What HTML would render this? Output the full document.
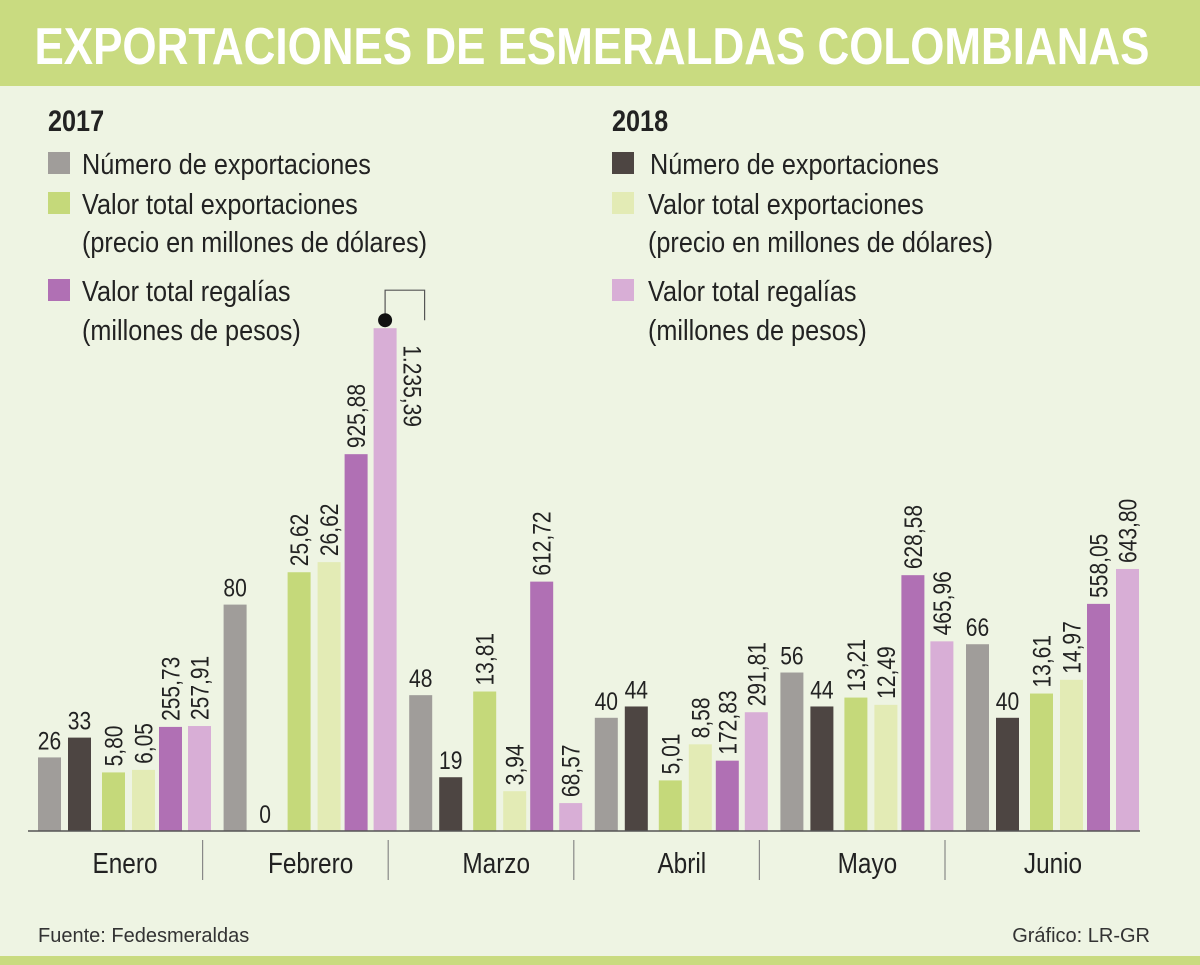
<!DOCTYPE html>
<html><head><meta charset="utf-8"><style>
body{margin:0;background:#eef4e3;}
svg{display:block;font-family:"Liberation Sans Narrow","Liberation Sans",sans-serif;}
</style></head><body>
<svg id="c" width="1200" height="965" viewBox="0 0 1200 965">
<rect x="0" y="0" width="1200" height="965" fill="#eef4e3"/>
<rect x="0" y="0" width="1200" height="86" fill="#c9db80"/>
<text x="592" y="64" text-anchor="middle" fill="#fff" font-size="52" font-weight="bold" textLength="1115" lengthAdjust="spacingAndGlyphs">EXPORTACIONES DE ESMERALDAS COLOMBIANAS</text>
<g>
<text class="n" x="48" y="131" font-size="30" font-weight="bold" fill="#222">2017</text>
<rect x="48" y="152" width="22" height="22" fill="#a09d9a"/><text class="l" x="82" y="174" font-size="29" fill="#222">Número  de exportaciones</text>
<rect x="48" y="192" width="22" height="22" fill="#c5d97a"/><text class="l" x="82" y="214" font-size="29" fill="#222">Valor total exportaciones</text>
<text class="l" x="82" y="252" font-size="29" fill="#222">(precio en millones de dólares)</text>
<rect x="48" y="279" width="22" height="22" fill="#b070b4"/><text class="l" x="82" y="301" font-size="29" fill="#222">Valor total regalías</text>
<text class="l" x="82" y="340" font-size="29" fill="#222">(millones de pesos)</text>
</g>
<g>
<text class="n" x="612" y="131" font-size="30" font-weight="bold" fill="#222">2018</text>
<rect x="612" y="152" width="22" height="22" fill="#4d4542"/><text class="l" x="650" y="174" font-size="29" fill="#222">Número  de exportaciones</text>
<rect x="612" y="192" width="22" height="22" fill="#e3ebb5"/><text class="l" x="648" y="214" font-size="29" fill="#222">Valor total exportaciones</text>
<text class="l" x="648" y="252" font-size="29" fill="#222">(precio en millones de dólares)</text>
<rect x="612" y="279" width="22" height="22" fill="#d8aed6"/><text class="l" x="648" y="301" font-size="29" fill="#222">Valor total regalías</text>
<text class="l" x="648" y="340" font-size="29" fill="#222">(millones de pesos)</text>
</g>
<g id="bars"></g>
<line x1="28" y1="831" x2="1140" y2="831" stroke="#555" stroke-width="1.5"/>
<text x="38" y="942" font-family="Liberation Sans,sans-serif" font-size="20" fill="#333">Fuente: Fedesmeraldas</text>
<text x="1150" y="942" text-anchor="end" font-family="Liberation Sans,sans-serif" font-size="20" fill="#333">Gráfico: LR-GR</text>
<rect x="0" y="956" width="1200" height="9" fill="#c9db80"/>
</svg>
<script>
const months=["Enero","Febrero","Marzo","Abril","Mayo","Junio"];
const count2017=[26,80,48,40,56,66];
const count2018=[33,0,19,44,44,40];
const value2017=[5.80,25.62,13.81,5.01,13.21,13.61];
const value2018=[6.05,26.62,3.94,8.58,12.49,14.97];
const royalty2017=[255.73,925.88,612.72,172.83,628.58,558.05];
const royalty2018=[257.91,1235.39,68.57,291.81,465.96,643.80];
const NS="http://www.w3.org/2000/svg";
const g=document.getElementById('bars');
const base=831,bw=23,gx0=38,gstep=185.6;
const offs=[0,30,64,94,121,150];
const sc=[2.83,2.83,10.1,10.1,0.407,0.407];
const cols=["#a09d9a","#4d4542","#c5d97a","#e3ebb5","#b070b4","#d8aed6"];
const series=[count2017,count2018,value2017,value2018,royalty2017,royalty2018];
const names=["count-2017","count-2018","value-2017","value-2018","royalty-2017","royalty-2018"];
function fmt(v,dec){let s=v.toFixed(dec).replace('.',',');if(v>=1000){s=s.replace(/^(\d)(\d{3})/,'$1.$2');}return s;}
function mk(t,a){const e=document.createElementNS(NS,t);for(const k in a)e.setAttribute(k,a[k]);return e;}
let maxV=Math.max(...royalty2018);
months.forEach((m,i)=>{
  const gx=gx0+i*gstep;
  series.forEach((s,j)=>{
    const v=s[i],h=v*sc[j],x=gx+offs[j],y=base-h;
    const r=mk('rect',{x:x,y:y,width:bw,height:Math.max(h,0.5),fill:cols[j]});
    
    
    g.appendChild(r);
    const t=mk('text',{'font-size':25,fill:'#222','class':'n'});
    
    
    if(j<2){t.textContent=String(v);t.setAttribute('x',x+bw/2);t.setAttribute('y',y-8);t.setAttribute('text-anchor','middle');}
    else{
      t.textContent=fmt(v,2);
      if(j==5&&v===maxV){
        const lx=x+bw+7,ly=y+17;
        t.setAttribute('x',lx);t.setAttribute('y',ly);
        t.setAttribute('transform','rotate(90 '+lx+' '+ly+')');
        const p=mk('path',{d:`M${x+bw/2} ${y-8} V${y-38} H${x+bw+28} V${y-8}`,fill:'none',stroke:'#555','stroke-width':1.2});
        
        
        g.appendChild(p);
        const c=mk('circle',{cx:x+bw/2,cy:y-8,r:7,fill:'#111'});
        
        
        g.appendChild(c);
      } else {
        const lx=x+bw/2+9,ly=y-6;
        t.setAttribute('x',lx);t.setAttribute('y',ly);
        t.setAttribute('transform','rotate(-90 '+lx+' '+ly+')');
      }
    }
    g.appendChild(t);
  });
  const ml=mk('text',{x:gx+87,y:873,'text-anchor':'middle','font-size':29,fill:'#222','class':'n'});
  ml.textContent=m;
  
  
  g.appendChild(ml);
  if(i>0){const sl=mk('line',{x1:gx-21,y1:840,x2:gx-21,y2:880,stroke:'#888','stroke-width':1.2});
    
    
    g.appendChild(sl);}
});
function squeeze(sel,f){document.querySelectorAll(sel).forEach(t=>{
  const L=t.getComputedTextLength();
  if(L>0){t.setAttribute('textLength',(L*f).toFixed(1));t.setAttribute('lengthAdjust','spacingAndGlyphs');}
});}
squeeze('text.n',0.84);
squeeze('text.l',0.87);
</script>
</body></html>
